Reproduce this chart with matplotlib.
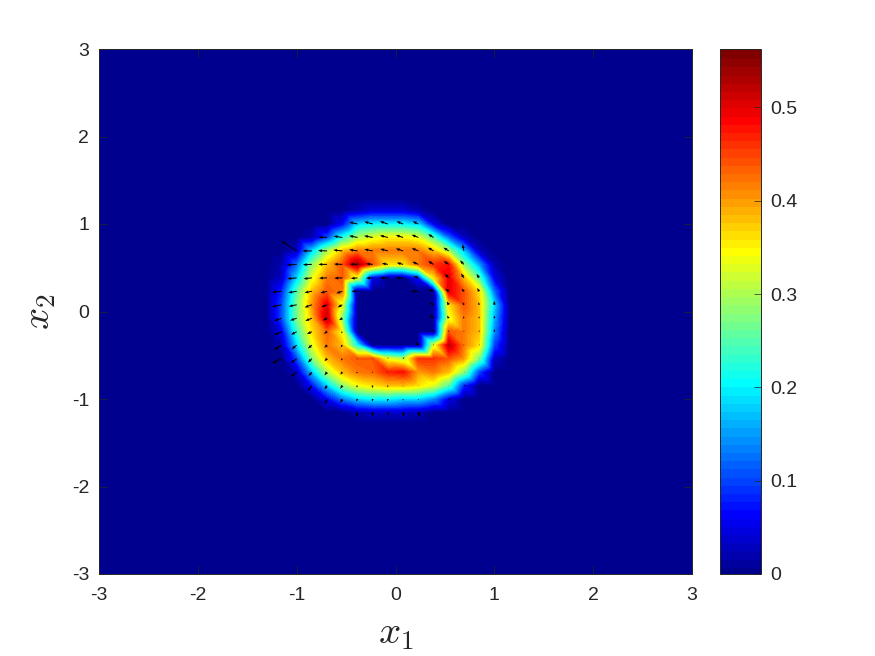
import numpy as np
import matplotlib
matplotlib.use("Agg")
import matplotlib.pyplot as plt
import matplotlib.tri as mtri
from matplotlib.cm import ScalarMappable
from matplotlib.colors import BoundaryNorm, ListedColormap

plt.rcParams['font.family'] = ['Liberation Sans', 'DejaVu Sans']
plt.rcParams['mathtext.fontset'] = 'cm'
plt.rcParams['axes.unicode_minus'] = False

grid_x = np.linspace(-3, 3, 40)
grid_y = np.linspace(-3, 3, 40)
col_start = 11   # first patch column in grid
row_top = 27     # grid row of the first patch row

# magnitude read at nodes around the ring, top row first
magnitude_rows = [
 [0,0,0,0,0,0,.02,.04,.04,.04,.02,0,0,0,0,0,0],
 [0,0,0,0,0,.06,.18,.2,.2,.2,.18,.05,0,0,0,0,0],
 [0,0,0,.02,.1,.22,.3,.33,.35,.35,.33,.25,.12,.03,0,0,0],
 [0,0,.03,.18,.3,.38,.42,.42,.42,.42,.42,.38,.3,.17,.03,0,0],
 [0,.02,.12,.28,.38,.44,.54,.44,.36,.36,.42,.46,.48,.28,.15,.02,0],
 [0,.03,.18,.33,.42,.44,.33,.05,0,0,.07,.35,.5,.38,.25,.05,0],
 [0,.08,.25,.38,.44,.42,0,0,0,0,0,0,.5,.44,.36,.12,0],
 [0,.1,.27,.4,.5,.33,0,0,0,0,0,0,.36,.44,.38,.18,0],
 [0,.1,.27,.38,.52,.28,0,0,0,0,0,0,.33,.42,.38,.16,0],
 [0,.05,.23,.36,.43,.34,0,0,0,0,0,0,.44,.42,.38,.14,0],
 [0,.02,.18,.33,.42,.38,.2,0,0,0,0,.32,.52,.42,.36,.1,0],
 [0,0,.1,.27,.38,.42,.44,.44,.33,.3,.46,.46,.44,.4,.27,.03,0],
 [0,0,.03,.17,.3,.38,.42,.43,.47,.48,.4,.42,.38,.28,.1,0,0],
 [0,0,0,.07,.18,.28,.34,.36,.38,.38,.36,.33,.25,.08,0,0,0],
 [0,0,0,0,.06,.13,.18,.2,.2,.18,.18,.14,.05,0,0,0,0],
 [0,0,0,0,0,0,.02,.03,.03,.03,.02,0,0,0,0,0,0],
]

# arrow components, same layout, in 1/296 data units (x) and 1/262 data units (y)
arrow_u_rows = [
 [0]*17,
 [0,0,0,0,0,0,-25,-25,-24,-20,-17,0,0,0,0,0,0],
 [0,0,0,0,-26,-26,-25,-26,-24,-22,-20,-16,0,0,0,0,0],
 [0,0,-45,-28,-27,-27,-25,-25,-23,-22,-20,-17,-16,-4,0,0,0],
 [0,0,-30,-27,-26,-25,-23,-20,-18,-19,-18,-16,-15,-12,0,0,0],
 [0,0,-28,-25,-24,-24,-20,-20,-23,-22,-15,0,-12,-9,-8,0,0],
 [0,-28,-25,-22,-20,-18,-18,0,0,0,-22,-14,-10,-7,-6,0,0],
 [0,-28,-24,-22,-17,-14,0,0,0,0,0,-12,-6,-4,-2,0,0],
 [0,-22,-20,-20,-13,-10,0,0,0,0,0,-12,-5,-2,0,0,0],
 [0,-22,-17,-15,-10,-4,0,0,0,0,0,-6,-2,0,0,0,0],
 [0,-22,-15,-12,-8,-5,0,0,0,0,-8,-2,-1,0,0,0,0],
 [0,-28,-18,-12,-8,-4,-3,-2,0,4,0,0,0,0,2,0,0],
 [0,0,-18,-10,-8,-6,-4,-3,-2,-1,0,0,0,2,0,0,0],
 [0,0,0,-12,-8,-6,-4,-2,-1,-1,0,1,2,6,0,0,0],
 [0,0,0,0,-7,-6,-4,-2,-1,0,0,1,4,0,0,0,0],
 [0,0,0,0,0,0,-3,-1,-1,2,6,0,0,0,0,0,0],
]
arrow_v_rows = [
 [0]*17,
 [0,0,0,0,0,0,6,7,8,8,8,0,0,0,0,0,0],
 [0,0,0,0,1,4,5,5,6,7,8,10,0,0,0,0,0],
 [0,0,30,0,1,3,4,5,6,7,8,10,10,20,0,0,0],
 [0,0,-2,-1,0,1,1,2,3,5,8,10,10,12,0,0,0],
 [0,0,-3,-3,-1,-1,-2,-1,0,0,5,0,12,13,12,0,0],
 [0,-3,-4,-4,-5,-6,0,0,0,0,0,6,8,8,10,0,0],
 [0,-6,-5,-8,-7,-8,0,0,0,0,0,6,10,8,8,12,0],
 [0,-8,-7,-8,-7,-6,0,0,0,0,0,10,8,6,6,8,0],
 [0,-10,-9,-7,-6,-5,0,0,0,0,0,5,4,4,5,8,0],
 [0,-14,-12,-10,-8,-7,0,0,0,0,8,3,2,3,3,0,0],
 [0,-14,-14,-12,-8,-6,-2,-2,4,4,0,1,0,0,0,0,0],
 [0,0,-14,-12,-10,-8,-4,-3,-2,-1,-1,0,0,-1,0,0,0],
 [0,0,0,-16,-12,-10,-6,-8,-6,-3,-2,-1,0,0,0,0,0],
 [0,0,0,0,-16,-12,-8,-8,-8,-5,-4,-2,-5,0,0,0,0],
 [0,0,0,0,0,0,-14,-12,-10,-12,-12,0,0,0,0,0,0],
]
xticks = [-3, -2, -1, 0, 1, 2, 3]
yticks = [-3, -2, -1, 0, 1, 2, 3]
cbar_ticks = [0, 0.1, 0.2, 0.3, 0.4, 0.5]
cmax = 0.5625

Z = np.zeros((40, 40))
U = np.zeros((40, 40))
V = np.zeros((40, 40))
for i in range(len(magnitude_rows)):
    r = row_top - i
    Z[r, col_start:col_start + 17] = magnitude_rows[i]
    U[r, col_start:col_start + 17] = np.array(arrow_u_rows[i]) / 296.4
    V[r, col_start:col_start + 17] = np.array(arrow_v_rows[i]) / 262.5

W, H = 875, 656
fig = plt.figure(figsize=(W / 100, H / 100), dpi=100)
ax = fig.add_axes([99 / W, 1 - 574 / H, 593 / W, 525 / H])
cax = fig.add_axes([720 / W, 1 - 574 / H, 41 / W, 525 / H])

X, Y = np.meshgrid(grid_x, grid_y)
tris = []
n = 40
for j in range(n - 1):
    for i in range(n - 1):
        a = j * n + i
        tris.append([a, a + 1, a + n])
        tris.append([a + 1, a + n + 1, a + n])
tri = mtri.Triangulation(X.ravel(), Y.ravel(), np.array(tris))

# MATLAB-style 64-step jet
m = 16
ramp = np.r_[np.arange(1, m + 1) / m, np.ones(m - 1), np.arange(m, 0, -1) / m]
def _channel(center):
    out = np.zeros(64)
    idx = np.arange(len(ramp)) + center
    keep = (idx >= 0) & (idx < 64)
    out[idx[keep]] = ramp[keep]
    return out
jet64 = np.c_[_channel(24), _channel(8), _channel(-8)]
cmap = ListedColormap(jet64)

levels = np.linspace(0, cmax, 65)
norm = BoundaryNorm(levels, 64)
ax.set_facecolor(cmap(0))
cs = ax.tricontourf(tri, Z.ravel(), levels=levels, cmap=cmap, norm=norm, antialiased=False)

mask = (U != 0) | (V != 0)
ax.quiver(X[mask], Y[mask], U[mask], V[mask], angles='xy', scale_units='xy', scale=1,
          color='k', width=0.0017, headwidth=3, headlength=4, headaxislength=3.6, minlength=0, minshaft=1)

ax.set_xlim(-3, 3)
ax.set_ylim(-3, 3)
ax.set_xticks(xticks)
ax.set_yticks(yticks)
ax.tick_params(direction='in', length=6, width=0.5, labelsize=14, colors='#262626', top=True, right=True)
ax.tick_params(axis='x', pad=9)
ax.tick_params(axis='y', pad=7)
for s in ax.spines.values():
    s.set_linewidth(0.7)
    s.set_color('#262626')
ax.set_xlabel(r'$x_1$', fontsize=28, labelpad=9, color='#262626')
ax.set_ylabel(r'$x_2$', fontsize=28, labelpad=10, color='#262626')

cb = fig.colorbar(ScalarMappable(norm=norm, cmap=cmap), cax=cax, ticks=cbar_ticks, spacing='proportional')
cb.ax.minorticks_off()
cb.ax.set_yticklabels(['0', '0.1', '0.2', '0.3', '0.4', '0.5'])
cb.ax.tick_params(direction='in', length=5, width=0.5, labelsize=14, colors='#262626', pad=7)
cb.solids.set_edgecolor('face')
cb.outline.set_linewidth(0.7)
cb.outline.set_edgecolor('#262626')

fig.savefig('out.png', dpi=100, facecolor='white')
